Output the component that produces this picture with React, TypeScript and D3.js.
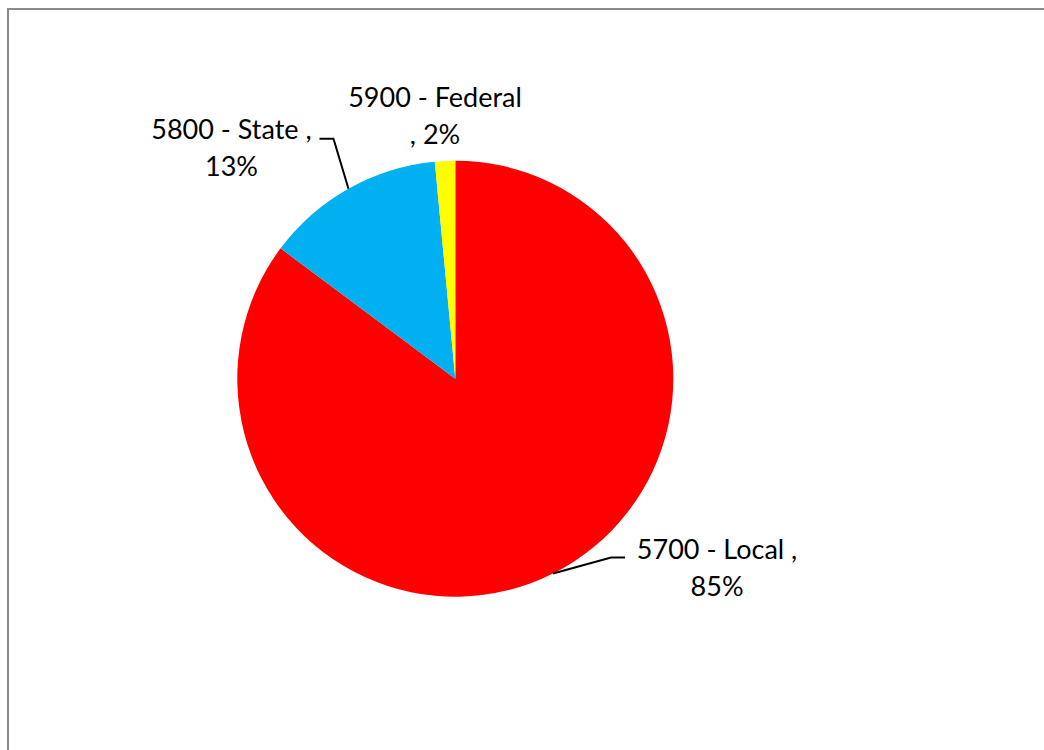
import React from "react";
import * as d3 from "d3";

const categories = ["5700 - Local", "5800 - State", "5900 - Federal"];
const values = [85.2, 13.3, 1.5];
const colors = ["#FF0000", "#00B0F0", "#FFFF00"];

const W = 1044;
const H = 750;
const cx = 455.3;
const cy = 378.7;
const R = 218;
const FONT = "Lato, 'Open Sans', sans-serif";
const FS = 27;
const LH = 37;

// label layout relative to the slice's outer mid-point
const labelLayout = [
  { dx: 164, dy: -15, lines: (c: string, p: string) => [`${c} ,`, p], leader: [[58, -16], [72, -16]] },
  { dx: -117, dy: -50, lines: (c: string, p: string) => [`${c} ,`, p], leader: [[-15, -50], [-29, -50]] },
  { dx: -10, dy: -54, lines: (c: string, p: string) => [c, `, ${p}`], leader: null as null | number[][] },
];

export default function App() {
  const total = d3.sum(values);
  const pie = d3.pie<number>().sort(null).value((d) => d);
  const arcs = pie(values);
  const arc = d3.arc<d3.PieArcDatum<number>>().innerRadius(0).outerRadius(R);

  return (
    <svg width={W} height={H} style={{ position: "absolute", left: 0, top: 0, background: "#fff" }}>
      <rect x={8} y={9} width={W + 20} height={H + 20} fill="#fff" stroke="#898989" strokeWidth={2} />
      <g transform={`translate(${cx},${cy})`}>
        {arcs.map((a, i) => (
          <path key={i} d={arc(a) || ""} fill={colors[i]} />
        ))}
      </g>
      {arcs.map((a, i) => {
        const mid = (a.startAngle + a.endAngle) / 2;
        const ex = cx + R * Math.sin(mid);
        const ey = cy - R * Math.cos(mid);
        const L = labelLayout[i];
        const pct = `${Math.round((values[i] / total) * 100)}%`;
        const lines = L.lines(categories[i], pct);
        const tx = ex + L.dx;
        const ty = ey + L.dy;
        const pts = L.leader ? [[ex, ey], ...L.leader.map(([x, y]) => [ex + x, ey + y])] : null;
        return (
          <g key={i}>
            {pts && (
              <path
                d={d3.line()(pts as [number, number][]) || ""}
                fill="none"
                stroke="#000"
                strokeWidth={2}
              />
            )}
            <text x={tx} y={ty} textAnchor="middle" fontFamily={FONT} fontSize={FS} fill="#000">
              {lines.map((t, j) => (
                <tspan key={j} x={tx} y={ty + j * LH}>
                  {t}
                </tspan>
              ))}
            </text>
          </g>
        );
      })}
    </svg>
  );
}
